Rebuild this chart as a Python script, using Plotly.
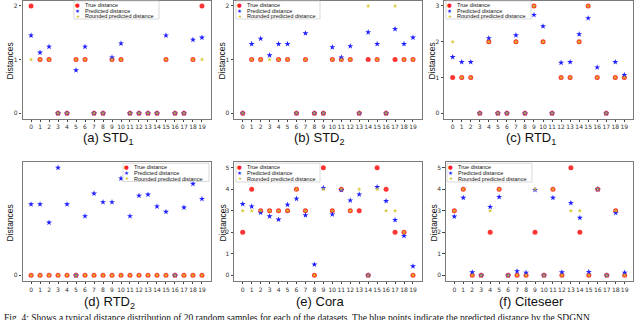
import plotly.graph_objects as go

W, H = 640, 320

idx = list(range(20))

std1_true = [2, 1, 1, 0, 0, 1, 1, 0, 0, 1, 1, 0, 0, 0, 0, 1, 0, 0, 1, 2]
std1_pred = [1.45, 1.13, 1.24, 0.0, 0.0, 0.80, 1.24, 0.0, 0.0, 1.04, 1.30, 0.0, 0.0, 0.0, 0.0, 1.45, 0.0, 0.0, 1.37, 1.41]
std1_round = [1, 1, 1, 0, 0, 1, 1, 0, 0, 1, 1, 0, 0, 0, 0, 1, 0, 0, 1, 1]

std2_true = [0, 1, 1, 2, 1, 1, 0, 1, 0, 0, 1, 1, 1, 0, 1, 1, 0, 1, 1, 1]
std2_pred = [0.0, 1.29, 1.39, 1.08, 1.29, 1.29, 0.0, 1.49, 0.0, 0.0, 1.23, 1.04, 1.25, 0.0, 1.51, 1.29, 0.0, 1.57, 1.29, 1.41]
std2_round = [0, 1, 1, 1, 1, 1, 0, 1, 0, 0, 1, 1, 1, 0, 2, 1, 0, 2, 1, 1]

rtd1_true = [1, 1, 1, 0, 2, 0, 0, 2, 0, 3, 2, 0, 1, 1, 2, 3, 1, 0, 1, 1]
rtd1_pred = [1.57, 1.43, 1.43, 0.0, 2.10, 0.0, 0.0, 2.18, 0.0, 2.75, 2.43, 0.0, 1.41, 1.43, 2.21, 2.66, 1.28, 0.0, 1.43, 1.07]
rtd1_round = [2, 1, 1, 0, 2, 0, 0, 2, 0, 3, 2, 0, 1, 1, 2, 3, 1, 0, 1, 1]

rtd2_true = [0] * 20
rtd2_pred = [0.066, 0.066, 0.049, 0.100, 0.066, 0.0, 0.055, 0.076, 0.068, 0.068,
             0.090, 0.055, 0.074, 0.075, 0.064, 0.059, 0.0, 0.063, 0.085, 0.071]
rtd2_round = [0] * 20

cora_true = [2, 4, 3, 3, 3, 3, 4, 3, 0, 5, 3, 4, 3, 3, 0, 5, 4, 2, 2, 0]
cora_pred = [3.31, 3.20, 2.91, 2.74, 2.59, 3.28, 3.56, 2.79, 0.50, 4.06, 2.83, 3.96, 3.48, 3.76, 0.0, 4.10, 3.45, 2.57, 1.83, 0.42]
cora_round = [3, 3, 3, 3, 3, 3, 4, 3, 0, 4, 3, 4, 3, 4, 0, 4, 3, 3, 2, 0]

cite_true = [3, 4, 0, 0, 2, 4, 0, 0, 0, 2, 0, 4, 0, 5, 2, 0, 4, 0, 3, 0]
cite_pred = [2.73, 3.60, 0.14, 0.0, 3.18, 3.64, 0.0, 0.19, 0.12, 3.97, 0.0, 3.60, 0.14, 3.36, 2.67, 0.16, 4.0, 0.0, 2.90, 0.12]
cite_round = [3, 4, 0, 0, 3, 4, 0, 0, 0, 4, 0, 4, 0, 3, 3, 0, 4, 0, 3, 0]

series_names = ["True distance", "Predicted distance", "Rounded predicted distance"]

# caption, data, y ticks, y range, (x0, x1, y0, y1) plot box in px, legend box, caption xy, ylabel x
panels = [
    ("(a) STD<sub>1</sub>", std1_true, std1_pred, std1_round, [0, 1, 2], [-0.1, 2.1],
     (22.5, 210.5, 0.6, 118.5), (74, 159, 1, 19), (108, 138), 10),
    ("(b) STD<sub>2</sub>", std2_true, std2_pred, std2_round, [0, 1, 2], [-0.1, 2.1],
     (234.2, 421.5, 0.6, 118.5), (236, 320, 1, 19), (319, 138), 222),
    ("(c) RTD<sub>1</sub>", rtd1_true, rtd1_pred, rtd1_round, [0, 1, 2, 3], [-0.15, 3.15],
     (444.1, 632.9, 0.6, 118.5), (446, 531, 1, 19), (531, 138), 432),
    ("(d) RTD<sub>2</sub>", rtd2_true, rtd2_pred, rtd2_round, [0], [-0.005, 0.105],
     (22.5, 210.5, 162.3, 280.7), (123, 209, 163.3, 181.5), (109, 302), 9),
    ("(e) Cora", cora_true, cora_pred, cora_round, [0, 1, 2, 3, 4, 5], [-0.25, 5.25],
     (234.2, 421.5, 162.3, 280.7), (236, 320, 163.3, 182), (320, 301), 222),
    ("(f) Citeseer", cite_true, cite_pred, cite_round, [0, 1, 2, 3, 4, 5], [-0.25, 5.25],
     (445.8, 633.2, 162.3, 280.7), (447, 532, 163.3, 182), (531, 301), 433),
]

RED = "#ff1f1f"
BLUE = "#1f1fff"
YEL = "#d2c21e"
SPINE = "#7a7a7a"


def px(x):
    return x / W


def py(y):
    return 1 - y / H


def note(text, x, y, size, color="#111", family="Liberation Sans", xanchor="center", **kw):
    # paper annotations default to 'auto' anchors, which move with position; pin them
    return dict(text=text, x=px(x), y=py(y), xref="paper", yref="paper", showarrow=False,
                xanchor=xanchor, yanchor="middle", font=dict(size=size, color=color, family=family), **kw)


fig = go.Figure()
layout = {}
shapes = []
annotations = []

for i, (cap, t, p, r, yt, yr, box, leg, cpos, ylx) in enumerate(panels):
    n = "" if i == 0 else str(i + 1)
    xa, ya = "x" + n, "y" + n
    fig.add_trace(go.Scatter(x=idx, y=t, xaxis=xa, yaxis=ya, mode="markers", name=series_names[0],
                             marker=dict(symbol="circle", size=5, color=RED, opacity=0.9), showlegend=False))
    fig.add_trace(go.Scatter(x=idx, y=p, xaxis=xa, yaxis=ya, mode="markers", name=series_names[1],
                             marker=dict(symbol="star", size=4.5, color=BLUE, line_width=0), showlegend=False))
    fig.add_trace(go.Scatter(x=idx, y=r, xaxis=xa, yaxis=ya, mode="markers", name=series_names[2],
                             marker=dict(symbol="star", size=3.5, color=YEL, line_width=0, opacity=0.85),
                             showlegend=False))

    x0, x1, y0, y1 = box
    common = dict(showline=True, mirror=True, linecolor=SPINE, linewidth=1.2, showgrid=False,
                  zeroline=False, ticks="outside", ticklen=2.5, tickcolor="#444", tickangle=0,
                  tickfont=dict(size=6, color="#333", family="DejaVu Sans"))
    layout["xaxis" + n] = dict(common, domain=[px(x0), px(x1)], anchor=ya, range=[-0.95, 19.95],
                               tickmode="array", tickvals=idx, ticktext=[str(k) for k in idx])
    layout["yaxis" + n] = dict(common, domain=[py(y1), py(y0)], anchor=xa, range=yr,
                               tickmode="array", tickvals=yt, ticktext=[str(k) for k in yt])

    annotations.append(note("Distances", ylx, (y0 + y1) / 2 + 2, 8.5, textangle=-90))
    annotations.append(note(cap, cpos[0], cpos[1], 13))

    # legend box
    lx0, lx1, ly0, ly1 = leg
    shapes.append(dict(type="rect", xref="paper", yref="paper", x0=px(lx0), x1=px(lx1),
                       y0=py(ly1), y1=py(ly0), fillcolor="white", line=dict(color="#cfcfcf", width=0.8),
                       layer="above"))
    glyphs = [("●", RED, 5.5), ("★", BLUE, 5.5), ("★", YEL, 4.5)]
    for k, name in enumerate(series_names):
        yy = ly0 + 4 + k * 5.6
        g, c, s = glyphs[k]
        annotations.append(note(g, lx0 + 3.5, yy, s, color=c, family="DejaVu Sans"))
        annotations.append(note(name, lx0 + 9, yy, 5.5, xanchor="left"))

annotations.append(note(
    "Fig. 4: Shows a typical distance distribution of 20 random samples for each of the datasets. "
    "The blue points indicate the predicted distance by the SDGNN",
    2, 318, 9.5, family="Liberation Serif", xanchor="left"))

fig.update_layout(**layout)
fig.update_layout(
    width=W, height=H, margin=dict(l=0, r=0, t=0, b=0),
    paper_bgcolor="white", plot_bgcolor="white",
    shapes=shapes, annotations=annotations, showlegend=False,
)

# the page body has a default 8px margin; drop it so the figure sits at the window's corner
fig.write_html("out.html", config={"displayModeBar": False},
               post_script="document.body.style.margin='0';")
